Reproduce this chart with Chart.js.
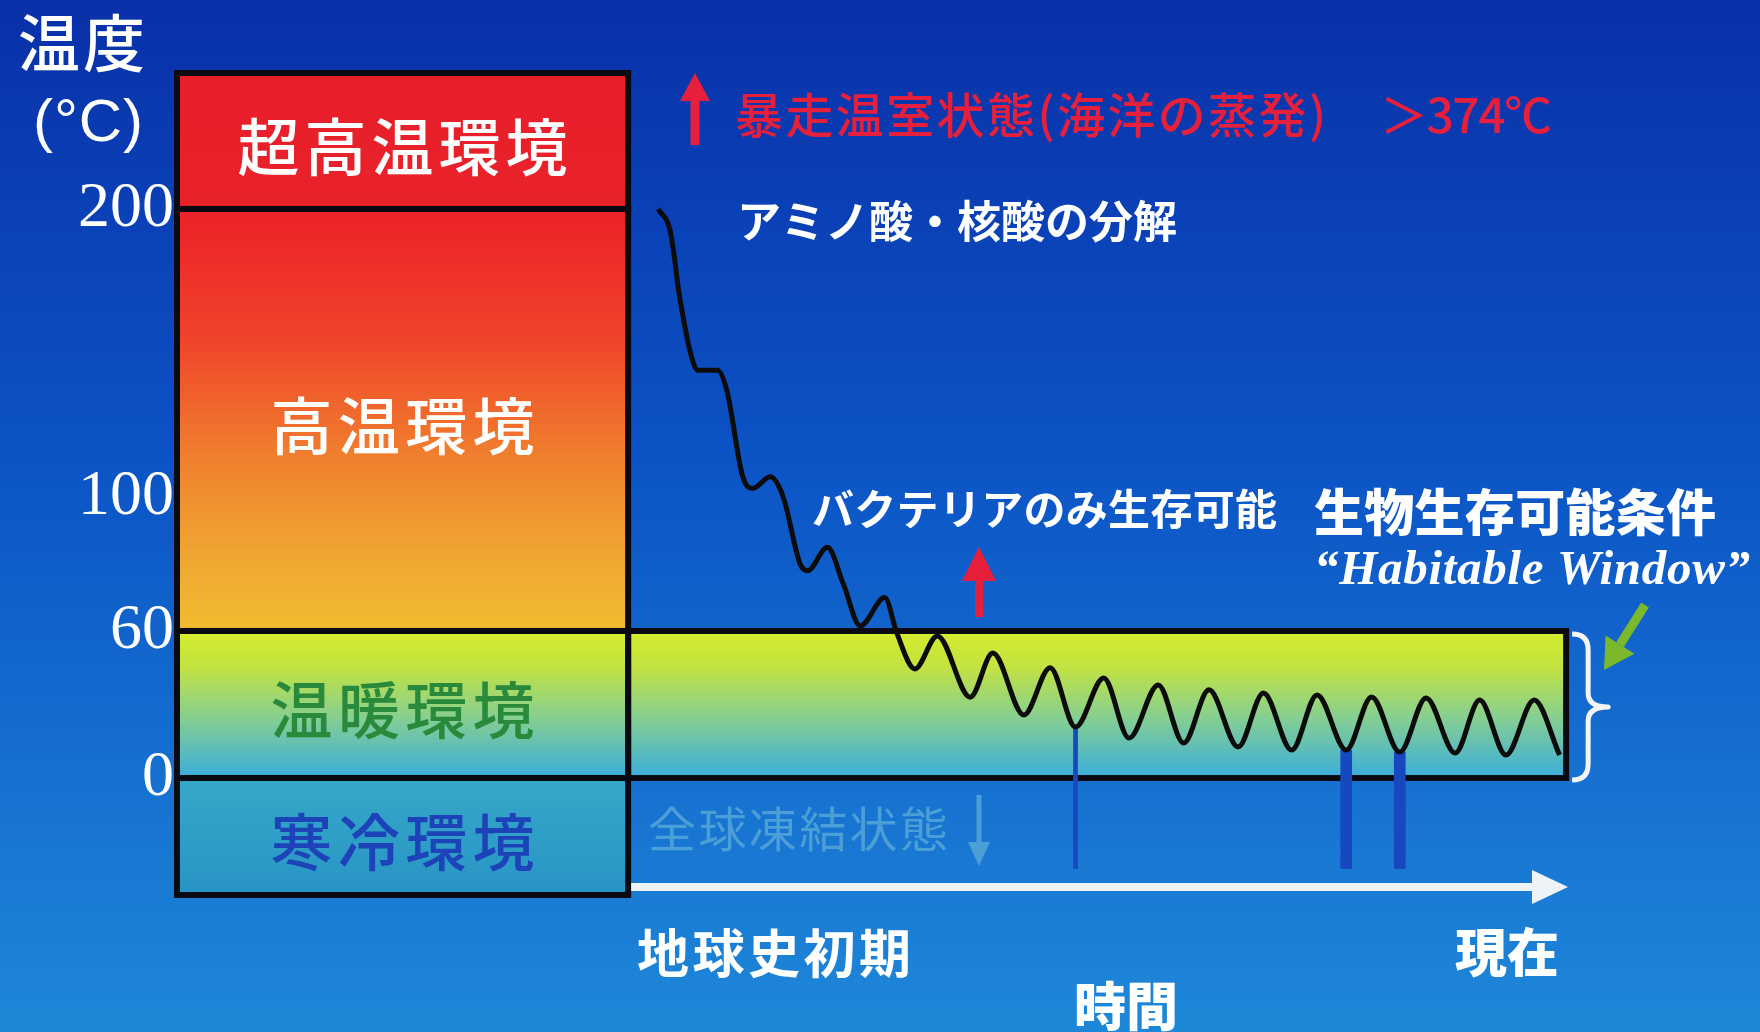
<!DOCTYPE html>
<html lang="ja">
<head>
<meta charset="utf-8">
<title>温度と生物生存可能条件</title>
<script src="https://cdn.jsdelivr.net/npm/chart.js@4/dist/chart.umd.min.js"></script>
<style>
  html, body { margin: 0; padding: 0; background: #0e56c6; overflow: hidden; }
  #wrap { width: 1760px; height: 1032px; position: relative; }
</style>
</head>
<body>
<div id="wrap"><canvas id="habitableChart"></canvas></div>
<script>
// temperature history, time 0 = early Earth, 100 = present
const timeValues = [3.2, 4.5, 5.5, 6.8, 7.4, 9.5, 10.5, 12.2, 13.3, 15.1, 16.5, 18.3, 19.1, 21.2,
  22.9, 24.7, 27.3, 28.6, 30.5, 32.9, 36.4, 38.8, 42.1, 44.9, 47.6, 50.6, 53.3, 56.4, 59.1, 61.8,
  64.9, 67.6, 70.6, 73.3, 76.4, 79.1, 82.1, 84.9, 88.0, 90.6, 93.4, 96.4, 99.1];
const tempValues = [200, 192, 169, 148, 144, 144, 137, 107, 103, 107, 100, 80, 78, 85,
  74, 61.5, 70, 59, 44.5, 58, 33, 51, 25.7, 45, 20.8, 40.8, 16.3, 38, 14.3, 36,
  12.7, 34.7, 11.4, 33.9, 11.4, 33.1, 10.6, 32.7, 10.2, 31.8, 9.4, 31.8, 9.4];

// snowball Earth episodes
const freezeTimes = [47.6, 76.4, 82.1];
const freezeTops = [20.8, 11.4, 10.6];
const freezeBottom = -31;

// temperature zones (°C)
const zoneNames = ['寒冷環境', '温暖環境', '高温環境', '超高温環境'];
const zoneLows = [-40, 0, 60, 200];
const zoneHighs = [0, 60, 200, 250];
const yTicks = [0, 60, 100, 200];

const habitableLow = 0, habitableHigh = 60;
const timeStart = 0, timeEnd = 100;

// layout / style
const CJK = '"Noto Sans CJK JP"';
const columnFrom = -48, columnTo = 0, habitableRight = 99.8;
const freezeWidths = [4, 11, 11];
const zoneStyles = [
  { stops: [[0, '#36a8c8'], [1, '#2894c6']], text: '#1c44b8' },
  { stops: [[0, '#d6ec2c'], [0.25, '#c2e242'], [0.6, '#84ce94'], [1, '#3aaddb']], text: '#2a8a3c' },
  { stops: [[0, '#ec2128'], [0.3, '#f0422a'], [0.6, '#f0822e'], [0.85, '#f0aa32'], [1, '#f2bc30']], text: '#ffffff' },
  { stops: [[0, '#e81e2a'], [1, '#e8222a']], text: '#ffffff' }
];

// the original drawing uses an uneven temperature axis
const yBreakValues = [-40, 0, 60, 100, 200, 250];
const yBreakFractions = [0, 0.1423, 0.3212, 0.4842, 0.8346, 1];

class PiecewiseScale extends Chart.LinearScale {
  _pwDec(v) {
    const b = yBreakValues, f = yBreakFractions;
    let i = 1;
    while (i < b.length - 1 && v > b[i]) i++;
    return f[i - 1] + (v - b[i - 1]) / (b[i] - b[i - 1]) * (f[i] - f[i - 1]);
  }
  _pwVal(d) {
    const b = yBreakValues, f = yBreakFractions;
    let i = 1;
    while (i < f.length - 1 && d > f[i]) i++;
    return b[i - 1] + (d - f[i - 1]) / (f[i] - f[i - 1]) * (b[i] - b[i - 1]);
  }
  getPixelForValue(value) {
    if (value === null || isNaN(value)) return NaN;
    return this.getPixelForDecimal(this._pwDec(value));
  }
  getValueForPixel(pixel) {
    return this._pwVal(this.getDecimalForPixel(pixel));
  }
}
PiecewiseScale.id = 'piecewise';
PiecewiseScale.defaults = Chart.LinearScale.defaults;
Chart.register(PiecewiseScale);

function drawText(ctx, t) {
  ctx.font = `${t.style || 'normal'} ${t.weight || 400} ${t.size}px ${t.family || CJK}`;
  ctx.letterSpacing = '0px';
  let spacing = 0;
  const n = [...t.text].length;
  if (t.w && n > 1) spacing = (t.w - ctx.measureText(t.text).width) / (n - 1);
  ctx.letterSpacing = spacing + 'px';
  ctx.fillStyle = t.color || '#ffffff';
  ctx.textBaseline = 'middle';
  ctx.textAlign = 'left';
  let x = t.x;
  if (t.cx !== undefined) x = t.cx - (ctx.measureText(t.text).width - spacing) / 2;
  ctx.fillText(t.text, x, t.y);
  ctx.letterSpacing = '0px';
}

function arrow(ctx, x1, y1, x2, y2, color, shaft, headLen, headW) {
  const a = Math.atan2(y2 - y1, x2 - x1);
  const bx = x2 - Math.cos(a) * headLen, by = y2 - Math.sin(a) * headLen;
  ctx.strokeStyle = color;
  ctx.fillStyle = color;
  ctx.lineWidth = shaft;
  ctx.lineCap = 'butt';
  ctx.beginPath();
  ctx.moveTo(x1, y1);
  ctx.lineTo(bx, by);
  ctx.stroke();
  ctx.beginPath();
  ctx.moveTo(x2, y2);
  ctx.lineTo(bx + Math.sin(a) * headW / 2, by - Math.cos(a) * headW / 2);
  ctx.lineTo(bx - Math.sin(a) * headW / 2, by + Math.cos(a) * headW / 2);
  ctx.closePath();
  ctx.fill();
}

function vGradient(ctx, top, bottom, stops) {
  const g = ctx.createLinearGradient(0, top, 0, bottom);
  stops.forEach(s => g.addColorStop(s[0], s[1]));
  return g;
}

const backgroundPlugin = {
  id: 'background',
  beforeDraw(chart) {
    const ctx = chart.ctx;
    ctx.save();
    ctx.fillStyle = vGradient(ctx, 0, chart.height, [[0, '#0930a8'], [0.45, '#0c54c6'], [1, '#1e88d8']]);
    ctx.fillRect(0, 0, chart.width, chart.height);
    ctx.restore();
  }
};

const zonePlugin = {
  id: 'zones',
  beforeDatasetsDraw(chart) {
    const { ctx, scales: { x, y } } = chart;
    const left = x.getPixelForValue(columnFrom), right = x.getPixelForValue(columnTo);
    ctx.save();
    zoneNames.forEach((name, i) => {
      const top = y.getPixelForValue(zoneHighs[i]), bottom = y.getPixelForValue(zoneLows[i]);
      ctx.fillStyle = vGradient(ctx, top, bottom, zoneStyles[i].stops);
      ctx.fillRect(left, top, right - left, bottom - top);
    });
    // habitable window box
    const hx1 = x.getPixelForValue(timeStart), hx2 = x.getPixelForValue(habitableRight);
    const hy1 = y.getPixelForValue(habitableHigh), hy2 = y.getPixelForValue(habitableLow);
    ctx.fillStyle = vGradient(ctx, hy1, hy2, zoneStyles[1].stops);
    ctx.fillRect(hx1, hy1, hx2 - hx1, hy2 - hy1);

    ctx.strokeStyle = '#0a0a12';
    ctx.lineWidth = 6;
    zoneNames.forEach((name, i) => {
      const top = y.getPixelForValue(zoneHighs[i]), bottom = y.getPixelForValue(zoneLows[i]);
      ctx.strokeRect(left, top, right - left, bottom - top);
    });
    ctx.strokeRect(hx1, hy1, hx2 - hx1, hy2 - hy1);

    zoneNames.forEach((name, i) => {
      const top = y.getPixelForValue(zoneHighs[i]), bottom = y.getPixelForValue(zoneLows[i]);
      drawText(ctx, { text: name, cx: (left + right) / 2, y: (top + bottom) / 2 + 6,
        size: 62, weight: 500, color: zoneStyles[i].text, w: name.length * 66 });
    });
    ctx.restore();
  }
};

const annotationPlugin = {
  id: 'annotations',
  afterDatasetsDraw(chart) {
    const { ctx, scales: { x, y } } = chart;
    ctx.save();
    const red = '#e6203c', faint = '#4c9ed6';
    const texts = [
      { text: '温度', x: 18, y: 43, w: 127, size: 62, weight: 500 },
      { text: '(°C)', x: 33, y: 124, w: 110, size: 60, weight: 400, family: '"Liberation Sans"' },
      { text: '暴走温室状態(海洋の蒸発)', x: 735, y: 115, w: 591, size: 48, weight: 500, color: red },
      { text: '＞374°C', x: 1380, y: 115, w: 172, size: 48, weight: 500, color: red },
      { text: 'アミノ酸・核酸の分解', x: 737, y: 221, w: 440, size: 44, weight: 700 },
      { text: 'バクテリアのみ生存可能', x: 812, y: 509, w: 465, size: 42, weight: 700 },
      { text: '生物生存可能条件', x: 1314, y: 512, w: 402, size: 50, weight: 900 },
      { text: '“Habitable Window”', x: 1314, y: 571, w: 436, size: 49, weight: 700, style: 'italic', family: '"Liberation Serif"' },
      { text: '全球凍結状態', x: 648, y: 829, w: 300, size: 48, color: faint },
      { text: '地球史初期', x: 637, y: 953, w: 274, size: 52, weight: 700 },
      { text: '現在', x: 1455, y: 952, w: 104, size: 52, weight: 900 },
      { text: '時間', x: 1074, y: 1006, w: 104, size: 52, weight: 900 }
    ];
    texts.forEach(t => drawText(ctx, t));

    arrow(ctx, 695, 145, 695, 73, red, 9, 28, 30);
    arrow(ctx, 979, 617, 979, 547, red, 8, 34, 34);
    arrow(ctx, 1645, 605, 1604, 670, '#7cb82c', 9, 30, 34);
    arrow(ctx, 979, 795, 979, 866, faint, 5, 24, 22);

    // time axis
    const ay = y.getPixelForValue(-37.3);
    arrow(ctx, x.getPixelForValue(timeStart) + 3, ay, x.getPixelForValue(timeEnd), ay, '#eef3f8', 8, 36, 34);

    // brace marking the habitable window
    const by1 = y.getPixelForValue(habitableHigh) + 3, by2 = y.getPixelForValue(habitableLow) + 2;
    const bm = (by1 + by2) / 2, bx = x.getPixelForValue(habitableRight) + 6;
    ctx.strokeStyle = '#f2f4f6';
    ctx.lineWidth = 5;
    ctx.lineJoin = 'round';
    ctx.beginPath();
    ctx.moveTo(bx, by1);
    ctx.quadraticCurveTo(bx + 16, by1, bx + 16, by1 + 16);
    ctx.lineTo(bx + 16, bm - 14);
    ctx.quadraticCurveTo(bx + 16, bm, bx + 36, bm);
    ctx.quadraticCurveTo(bx + 16, bm, bx + 16, bm + 14);
    ctx.lineTo(bx + 16, by2 - 16);
    ctx.quadraticCurveTo(bx + 16, by2, bx, by2);
    ctx.stroke();
    ctx.restore();
  }
};

const curve = timeValues.map((t, i) => ({ x: t, y: tempValues[i] }));
const freezeSets = freezeTimes.map((t, i) => ({
  type: 'bar',
  data: [{ x: t, y: [freezeBottom, freezeTops[i]] }],
  backgroundColor: '#1848c0',
  barThickness: freezeWidths[i],
  grouped: false,
  order: 2
}));

new Chart(document.getElementById('habitableChart'), {
  type: 'line',
  data: {
    datasets: [{
      data: curve,
      borderColor: '#0c0c0c',
      borderWidth: 5,
      pointRadius: 0,
      cubicInterpolationMode: 'monotone',
      fill: false,
      order: 1
    }, ...freezeSets]
  },
  options: {
    responsive: true,
    maintainAspectRatio: false,
    animation: false,
    layout: { padding: { left: 0, right: 4, top: 73, bottom: 137 } },
    plugins: { legend: { display: false }, tooltip: { enabled: false } },
    scales: {
      x: { type: 'linear', min: -48, max: 120, display: false, offset: false, grid: { offset: false } },
      y: {
        type: 'piecewise', min: -40, max: 250, position: 'left',
        grid: { display: false, drawTicks: false },
        border: { display: false },
        afterBuildTicks: s => { s.ticks = yTicks.map(v => ({ value: v })); },
        afterFit: s => { s.width = 177; },
        ticks: { color: '#ffffff', padding: 3, font: { family: '"Liberation Serif"', size: 64 } }
      }
    }
  },
  plugins: [backgroundPlugin, zonePlugin, annotationPlugin]
});
</script>
</body>
</html>
